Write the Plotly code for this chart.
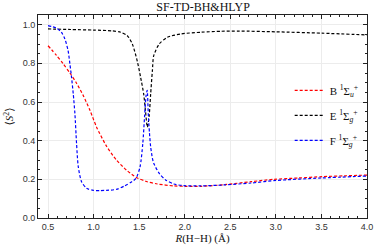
import plotly.graph_objects as go

# ---- data ----
x_B = [0.5, 0.59, 0.667, 0.74, 0.813, 0.887, 0.96, 1.033, 1.14, 1.25, 1.36, 1.47, 1.58, 1.70,
       1.88, 2.0, 2.18, 2.43, 2.73, 2.98, 3.25, 3.51, 3.75, 4.0]
y_B = [0.891, 0.843, 0.797, 0.75, 0.697, 0.633, 0.557, 0.47, 0.373, 0.30, 0.248, 0.209, 0.189, 0.176,
       0.166, 0.164, 0.164, 0.172, 0.188, 0.20, 0.207, 0.214, 0.218, 0.222]

x_E = [0.5, 0.75, 1.0, 1.2, 1.297, 1.37, 1.425, 1.48, 1.516, 1.55, 1.57, 1.59, 1.61, 1.626, 1.645,
       1.66, 1.72, 1.81, 1.956, 2.18, 2.4, 2.6, 3.0, 3.5, 4.0]
y_E = [0.978, 0.975, 0.972, 0.968, 0.961, 0.943, 0.90, 0.81, 0.728, 0.64, 0.55, 0.47, 0.53, 0.64, 0.762,
       0.84, 0.90, 0.935, 0.952, 0.961, 0.966, 0.967, 0.963, 0.956, 0.947]

x_F = [0.5, 0.59, 0.648, 0.685, 0.72, 0.74, 0.758, 0.777, 0.795, 0.813, 0.832, 0.868, 0.923, 0.997,
       1.07, 1.14, 1.25, 1.34, 1.42, 1.465, 1.51, 1.54, 1.56, 1.575, 1.588, 1.60, 1.613, 1.626, 1.645,
       1.66, 1.72, 1.79, 1.88, 1.99, 2.18, 2.43, 2.73, 3.0, 3.5, 4.0]
y_F = [0.995, 0.983, 0.96, 0.926, 0.866, 0.797, 0.728, 0.641, 0.54, 0.386, 0.265, 0.188, 0.154, 0.143,
       0.142, 0.143, 0.148, 0.166, 0.188, 0.205, 0.265, 0.386, 0.53, 0.63, 0.66, 0.54, 0.44, 0.369, 0.31,
       0.283, 0.231, 0.197, 0.176, 0.167, 0.166, 0.171, 0.181, 0.194, 0.207, 0.217]

names = ["B <sup>1</sup>Σ<sub><i>u</i></sub><sup>+</sup>",
         "E <sup>1</sup>Σ<sub><i>g</i></sub><sup>+</sup>",
         "F <sup>1</sup>Σ<sub><i>g</i></sub><sup>+</sup>"]
colors = ["#ff0000", "#000000", "#0000ff"]

title_text = "SF-TD-BH&amp;HLYP"
x_title = "<i>R</i>(H−H) (Å)"
y_title = "⟨<i>S</i><sup>2</sup>⟩"

fig = go.Figure()
for xs, ys, nm, c in zip([x_B, x_E, x_F], [y_B, y_E, y_F], names, colors):
    fig.add_trace(go.Scatter(x=xs, y=ys, mode="lines", name=nm, legendgroup=nm,
                             line=dict(color=c, width=1.2, dash="3px,2px", shape="spline", smoothing=0.7)))

axis_common = dict(showline=True, linecolor="#222", linewidth=1, mirror="allticks",
                   ticks="inside", ticklen=4, tickcolor="#222", tickwidth=1,
                   showgrid=True, gridcolor="#ececec", gridwidth=1, zeroline=False,
                   automargin=False,
                   tickfont=dict(family="Liberation Sans, Arial", size=9, color="#333"),
                   tickformat=".1f")

fig.update_layout(
    width=374, height=248,
    margin=dict(l=38, r=7, t=15, b=30, autoexpand=False),
    paper_bgcolor="white", plot_bgcolor="white",
    title=dict(text=title_text, x=0.543, xanchor="center", y=0.972, yanchor="middle",
               yref="container", automargin=False,
               font=dict(family="Liberation Serif, DejaVu Serif", size=12, color="#111")),
    xaxis=dict(range=[0.39, 4.0], dtick=0.5, tick0=0.5,
               minor=dict(dtick=0.1, ticks="inside", ticklen=2, tickcolor="#222", showgrid=False),
               title=dict(text=x_title, standoff=2,
                          font=dict(family="Liberation Serif, DejaVu Serif", size=11, color="#111")),
               **axis_common),
    yaxis=dict(range=[0, 1.05], dtick=0.2, tick0=0,
               minor=dict(dtick=0.05, ticks="inside", ticklen=2, tickcolor="#222", showgrid=False),
               title=dict(text=y_title, standoff=6,
                          font=dict(family="Liberation Serif, DejaVu Serif", size=11, color="#111")),
               **axis_common),
    legend=dict(x=0.765, y=0.70, xanchor="left", yanchor="top", bgcolor="rgba(0,0,0,0)",
                font=dict(family="Liberation Serif, DejaVu Serif", size=11, color="#111"),
                itemwidth=30, tracegroupgap=6),
    showlegend=True,
)

fig.write_html("out.html", config={"displayModeBar": False},
               post_script="document.body.style.margin='0';document.body.style.overflow='hidden';")
